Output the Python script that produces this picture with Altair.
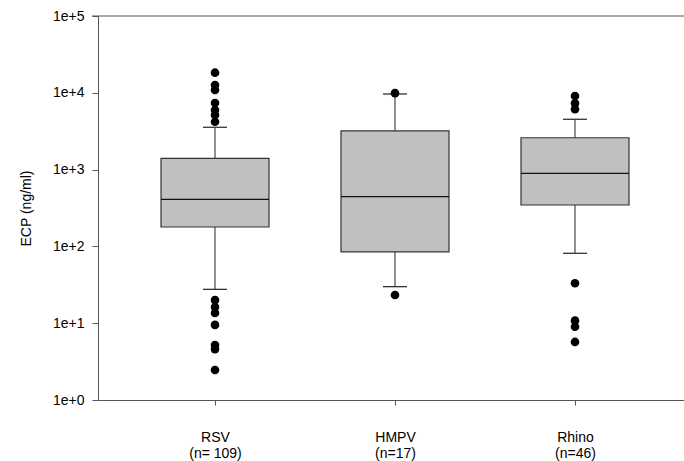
import altair as alt
import pandas as pd

# Summary statistics of ECP (ng/ml) per virus group
groups = ["RSV", "HMPV", "Rhino"]
positions = [1, 2, 3]
n_labels = ["(n= 109)", "(n=17)", "(n=46)"]
whisker_low = [27.6, 29.9, 81.3]
q1 = [179, 85, 346]
median = [410, 444, 895]
q3 = [1403, 3184, 2600]
whisker_high = [3556, 9650, 4520]

# Individual values outside the whiskers
outliers_rsv = [18270, 12650, 10870, 7360, 5970, 5140, 4200, 20.0, 16.2, 13.6, 9.5, 5.2, 4.6, 2.46]
outliers_hmpv = [9900, 23.3]
outliers_rhino = [9080, 7300, 6100, 33.1, 10.8, 9.0, 5.7]

y_ticks = [1, 10, 100, 1000, 10000, 100000]

box_half = 0.3
cap_half = 0.0667

stats = pd.DataFrame({
    "group": groups,
    "pos": positions,
    "lo": whisker_low,
    "q1": q1,
    "med": median,
    "q3": q3,
    "hi": whisker_high,
})
stats["left"] = stats["pos"] - box_half
stats["right"] = stats["pos"] + box_half
stats["cap_l"] = stats["pos"] - cap_half
stats["cap_r"] = stats["pos"] + cap_half

out_rows = []
for p, vals in zip(positions, [outliers_rsv, outliers_hmpv, outliers_rhino]):
    for v in vals:
        out_rows.append({"pos": p, "value": v})
outliers = pd.DataFrame(out_rows)

label_expr = (
    "datum.value == 1 ? ['" + groups[0] + "', '" + n_labels[0] + "'] : "
    "datum.value == 2 ? ['" + groups[1] + "', '" + n_labels[1] + "'] : "
    "datum.value == 3 ? ['" + groups[2] + "', '" + n_labels[2] + "'] : ''"
)

x_scale = alt.Scale(domain=[0.35, 3.6056], nice=False, zero=False)
y_scale = alt.Scale(type="log", domain=[1, 100000], nice=False)

x_axis = alt.Axis(
    values=positions, labelExpr=label_expr, title=None, grid=False,
    tickSize=5, labelPadding=25, labelFontSize=14, labelFont="Liberation Sans",
    labelColor="#000", domainColor="#555", tickColor="#555", labelLineHeight=16,
)
y_axis = alt.Axis(
    values=y_ticks, labelExpr="'1e+' + round(log(datum.value) / LN10)",
    title="ECP (ng/ml)", grid=False, tickSize=6, labelPadding=8,
    labelFontSize=14, labelFont="Liberation Sans", labelColor="#000",
    titleFont="Liberation Sans", titleFontSize=14, titleFontWeight="normal",
    titleColor="#000", titlePadding=19, domainColor="#555", tickColor="#555",
)

base = alt.Chart(stats)

whisker = base.mark_rule(color="#555", strokeWidth=1.3).encode(
    x=alt.X("pos:Q", scale=x_scale, axis=x_axis),
    y=alt.Y("lo:Q", scale=y_scale, axis=y_axis),
    y2="hi:Q",
)
cap_low = base.mark_rule(color="#333", strokeWidth=1.3).encode(
    x=alt.X("cap_l:Q", scale=x_scale), x2="cap_r:Q",
    y=alt.Y("lo:Q", scale=y_scale),
)
cap_high = base.mark_rule(color="#333", strokeWidth=1.3).encode(
    x=alt.X("cap_l:Q", scale=x_scale), x2="cap_r:Q",
    y=alt.Y("hi:Q", scale=y_scale),
)
box = base.mark_rect(fill="#c0c0c0", stroke="#333", strokeWidth=1.2).encode(
    x=alt.X("left:Q", scale=x_scale), x2="right:Q",
    y=alt.Y("q1:Q", scale=y_scale), y2="q3:Q",
)
med = base.mark_rule(color="#111", strokeWidth=1.3).encode(
    x=alt.X("left:Q", scale=x_scale), x2="right:Q",
    y=alt.Y("med:Q", scale=y_scale),
)
dots = alt.Chart(outliers).mark_circle(color="#000", opacity=1, size=75).encode(
    x=alt.X("pos:Q", scale=x_scale),
    y=alt.Y("value:Q", scale=y_scale),
)
top_line = alt.Chart(pd.DataFrame({"v": [100000]})).mark_rule(color="#555", strokeWidth=1).encode(
    y=alt.Y("v:Q", scale=y_scale),
    x=alt.value(-6), x2=alt.value(590),
)

chart = alt.layer(whisker, cap_low, cap_high, box, med, dots, top_line).properties(
    width=586, height=384,
    autosize=alt.AutoSizeParams(type="none"),
    padding={"left": 98, "top": 16, "right": 0, "bottom": 61},
    background="white",
).configure_view(stroke=None)

chart.save("out.html", embed_options={"renderer": "svg", "actions": False})
